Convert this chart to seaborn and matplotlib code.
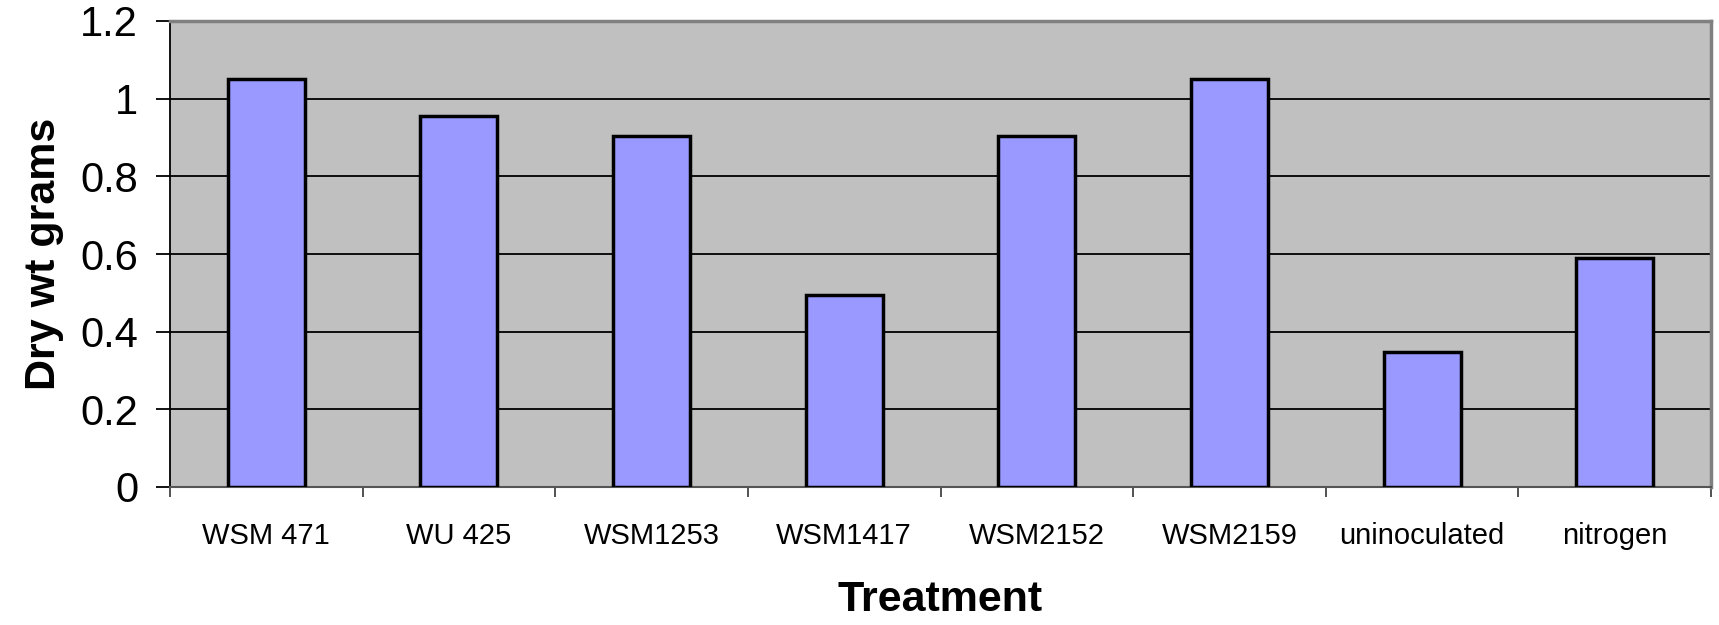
import matplotlib
matplotlib.use("Agg")
import matplotlib.pyplot as plt
import seaborn as sns
import numpy as np
from matplotlib.ticker import FixedLocator

treatments = ["WSM 471", "WU 425", "WSM1253", "WSM1417", "WSM2152", "WSM2159",
              "uninoculated", "nitrogen"]
dry_weight = [1.05, 0.955, 0.905, 0.495, 0.905, 1.05, 0.348, 0.59]
y_ticks = [0, 0.2, 0.4, 0.6, 0.8, 1, 1.2]
y_tick_labels = ["0", "0.2", "0.4", "0.6", "0.8", "1", "1.2"]

sns.set_theme(style="white")
plt.rcParams["font.family"] = ["Liberation Sans", "DejaVu Sans"]
plt.rcParams["text.color"] = "black"
plt.rcParams["axes.labelcolor"] = "black"
plt.rcParams["xtick.labelcolor"] = "black"
plt.rcParams["ytick.labelcolor"] = "black"

fig = plt.figure(figsize=(17.19, 6.25), dpi=100)
ax = fig.add_axes([170 / 1719, 1 - 487 / 625, (1711 - 170) / 1719, (487 - 21) / 625])
ax.set_facecolor("#c0c0c0")

sns.barplot(x=treatments, y=dry_weight, color="#9999ff", saturation=1,
            width=0.4, edgecolor="black", linewidth=2.5, ax=ax, zorder=3)

ax.set_xlim(-0.5, len(treatments) - 0.5)
ax.set_ylim(0, 1.2)
ax.set_yticks(y_ticks)
ax.set_yticklabels(y_tick_labels)
ax.yaxis.grid(True, color="black", linewidth=1.3, zorder=1)
ax.set_axisbelow(True)

# category boundary ticks below the axis
ax.xaxis.set_minor_locator(FixedLocator(np.arange(-0.5, len(treatments), 1.0)))
ax.tick_params(axis="x", which="major", length=0, pad=25, labelsize=21, labelcolor="black")
ax.tick_params(axis="x", which="minor", length=7, width=1.3, color="#444444", bottom=True)
ax.tick_params(axis="y", which="major", length=10, width=1.3, pad=13, labelsize=30,
               left=True, color="black", labelcolor="black")

for side in ("top", "right"):
    ax.spines[side].set_color("#808080")
    ax.spines[side].set_linewidth(2.5)
ax.spines["left"].set_color("black")
ax.spines["left"].set_linewidth(1.3)
ax.spines["bottom"].set_color("#555555")
ax.spines["bottom"].set_linewidth(1.5)

ax.set_xlabel("Treatment", fontsize=31, fontweight="bold", labelpad=22, color="black")
ax.set_ylabel("Dry wt grams", fontsize=31, fontweight="bold", labelpad=12, color="black")

fig.savefig("out.png", dpi=100)
